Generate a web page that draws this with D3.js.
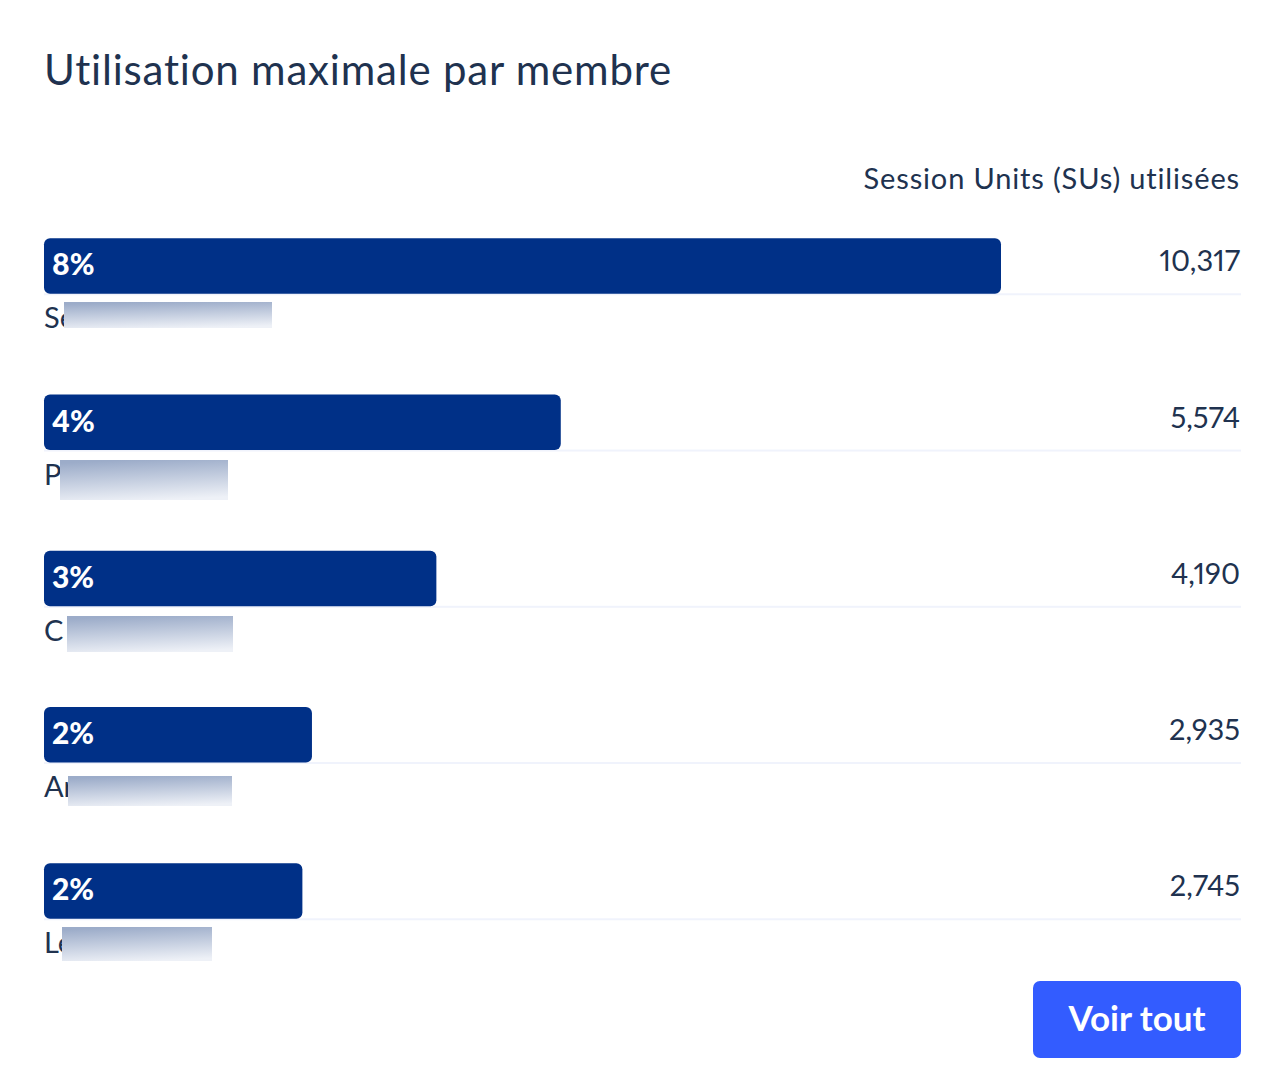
<!DOCTYPE html>
<html>
<head>
<meta charset="utf-8">
<title>Utilisation maximale par membre</title>
<script src="https://cdn.jsdelivr.net/npm/d3@7"></script>
<style>
  html, body { margin: 0; padding: 0; background: #fff; }
  svg { display: block; }
  text {
    font-family: Lato, "Open Sans", sans-serif;
    fill: #20324f;
    font-variant-ligatures: none;
    font-variant-numeric: proportional-nums;
  }
</style>
</head>
<body>
<svg id="chart" width="1282" height="1086"></svg>
<script>
// member names are hidden in the source, only the first letters can be read
var members = ["Se", "P", "C", "Ar", "Le"]
var shares = ["8%", "4%", "3%", "2%", "2%"]
var sessionUnits = [10317, 5574, 4190, 2935, 2745]
var unitLabels = ["10,317", "5,574", "4,190", "2,935", "2,745"]
// bar length, % of the longest bar
var barLengths = [100, 54, 41, 28, 27]

// blur boxes that hide the names (x, y, w, h in page pixels)
var maskBoxes = [
    [64, 302, 208, 26],
    [60, 460, 168, 40],
    [67, 616, 166, 36],
    [68, 776, 164, 30],
    [62, 927, 150, 34]
]

var svg = d3.select("#chart")

var defs = svg.append("defs")
var grad = defs.append("linearGradient")
    .attr("id", "maskFill")
    .attr("x1", "0.4").attr("y1", "0")
    .attr("x2", "0.6").attr("y2", "1")
grad.append("stop").attr("offset", "0%").attr("stop-color", "#9cacc9")
grad.append("stop").attr("offset", "100%").attr("stop-color", "#eef1f7")

var left = 44, right = 1241
var rowStep = 156.25, barH = 55.5

var xScale = d3.scaleLinear().domain([0, 100]).range([left, 1001])
var yScale = d3.scaleBand()
    .domain(members)
    .range([238.3, 238.3 + 4 * rowStep + barH])
    .paddingInner((rowStep - barH) / rowStep)
    .paddingOuter(0)

svg.append("text")
    .attr("x", left)
    .attr("y", 85)
    .attr("font-size", "42px")
    .style("letter-spacing", "0.8px")
    .text("Utilisation maximale par membre")

svg.append("text")
    .attr("x", 1240)
    .attr("y", 189)
    .attr("font-size", "29px")
    .style("letter-spacing", "0.85px")
    .style("text-anchor", "end")
    .text("Session Units (SUs) utilisées")

var rows = svg.selectAll("g.row")
    .data(members)
    .enter().append("g")
    .attr("class", "row")

// light rule under each bar
rows.append("rect")
    .attr("x", left)
    .attr("y", function (d) { return yScale(d) + barH - 0.5 })
    .attr("width", right - left)
    .attr("height", 2)
    .attr("fill", "#f0f3fc")

rows.append("rect")
    .attr("class", "bar")
    .attr("fill", "#003087")
    .attr("rx", 6)
    .attr("x", left)
    .attr("y", function (d) { return yScale(d) })
    .attr("width", function (d, i) { return xScale(barLengths[i]) - left })
    .attr("height", barH)

rows.append("text")
    .attr("x", left + 8)
    .attr("y", function (d) { return yScale(d) + 37 })
    .attr("font-size", "30px")
    .attr("font-weight", 900)
    .style("fill", "#fff")
    .text(function (d, i) { return shares[i] })

rows.append("text")
    .attr("x", 1240)
    .attr("y", function (d) { return yScale(d) + 33 })
    .attr("font-size", "29px")
    .style("text-anchor", "end")
    .text(function (d, i) { return unitLabels[i] })

rows.append("text")
    .attr("x", left)
    .attr("y", function (d) { return yScale(d) + 90 })
    .attr("font-size", "29px")
    .text(function (d) { return d })

svg.selectAll("rect.mask")
    .data(maskBoxes)
    .enter().append("rect")
    .attr("class", "mask")
    .attr("x", function (d) { return d[0] })
    .attr("y", function (d) { return d[1] })
    .attr("width", function (d) { return d[2] })
    .attr("height", function (d) { return d[3] })
    .attr("fill", "url(#maskFill)")

svg.append("rect")
    .attr("x", 1033)
    .attr("y", 981)
    .attr("width", 208)
    .attr("height", 77)
    .attr("rx", 7)
    .attr("fill", "#335cff")

svg.append("text")
    .attr("x", 1137)
    .attr("y", 1031)
    .attr("font-size", "35px")
    .attr("font-weight", 700)
    .style("text-anchor", "middle")
    .style("fill", "#fff")
    .text("Voir tout")
</script>
</body>
</html>
